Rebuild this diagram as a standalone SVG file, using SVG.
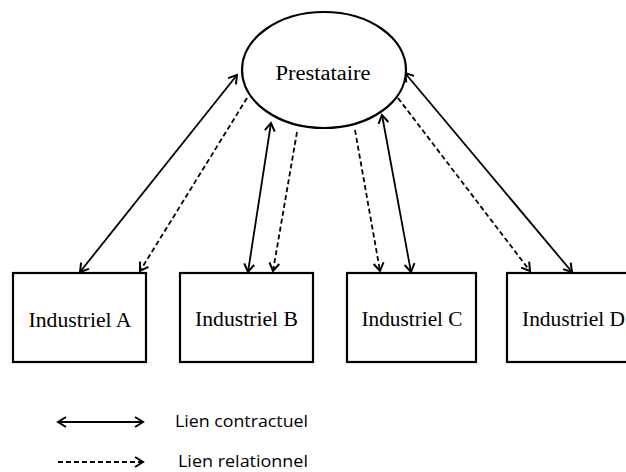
<svg xmlns="http://www.w3.org/2000/svg" width="626" height="472" viewBox="0 0 626 472">
<style>
.node{fill:#fff;stroke:#000;stroke-width:2.2}
.lbl{font-family:"Liberation Serif","DejaVu Serif",serif;font-size:20px;fill:#000;text-anchor:middle}
.leg{font-family:"Open Sans","Liberation Sans",sans-serif;font-size:17px;fill:#000}
.solid{stroke:#000;stroke-width:1.8;fill:none;marker-start:url(#ah);marker-end:url(#ah)}
.dash{stroke:#000;stroke-width:1.8;fill:none;stroke-dasharray:5,3;marker-end:url(#ah)}
</style>
<defs>
<marker id="ah" viewBox="0 0 12 12" refX="10" refY="6" markerWidth="12" markerHeight="12" markerUnits="userSpaceOnUse" orient="auto-start-reverse">
<path d="M2,1 L10,6 L2,11" fill="none" stroke="#000" stroke-width="2"/>
</marker>
</defs>
<rect width="626" height="472" fill="#fff"/>
<g id="connectors">
<line class="solid" x1="237" y1="75" x2="80" y2="272"/>
<line class="dash" x1="247" y1="98" x2="140" y2="271"/>
<line class="solid" x1="271" y1="123" x2="248" y2="272"/>
<line class="dash" x1="297" y1="132" x2="273" y2="271"/>
<line class="dash" x1="355" y1="130" x2="380" y2="271"/>
<line class="solid" x1="382" y1="115" x2="411" y2="272"/>
<line class="dash" x1="398" y1="98" x2="530" y2="271"/>
<line class="solid" x1="405" y1="73" x2="572" y2="272"/>
</g>
<g id="prestataire">
<ellipse class="node" cx="324" cy="70" rx="82" ry="58"/>
<text class="lbl" x="323" y="80" textLength="95" lengthAdjust="spacingAndGlyphs">Prestataire</text>
</g>
<g id="industriel-a">
<rect class="node" x="13" y="273" width="133" height="89"/>
<text class="lbl" x="80" y="327" textLength="103" lengthAdjust="spacingAndGlyphs">Industriel A</text>
</g>
<g id="industriel-b">
<rect class="node" x="180" y="273" width="133" height="89"/>
<text class="lbl" x="246.5" y="326" textLength="103" lengthAdjust="spacingAndGlyphs">Industriel B</text>
</g>
<g id="industriel-c">
<rect class="node" x="347" y="273" width="129" height="89"/>
<text class="lbl" x="412" y="326" textLength="101" lengthAdjust="spacingAndGlyphs">Industriel C</text>
</g>
<g id="industriel-d">
<rect class="node" x="507" y="273" width="133" height="89"/>
<text class="lbl" x="573.5" y="326" textLength="103" lengthAdjust="spacingAndGlyphs">Industriel D</text>
</g>
<g id="legend">
<line class="solid" x1="58" y1="422" x2="143" y2="422"/>
<text class="leg" x="175" y="427" textLength="133" lengthAdjust="spacingAndGlyphs">Lien contractuel</text>
<line class="dash" x1="58" y1="462" x2="143" y2="462"/>
<text class="leg" x="178" y="467" textLength="130" lengthAdjust="spacingAndGlyphs">Lien relationnel</text>
</g>
</svg>
